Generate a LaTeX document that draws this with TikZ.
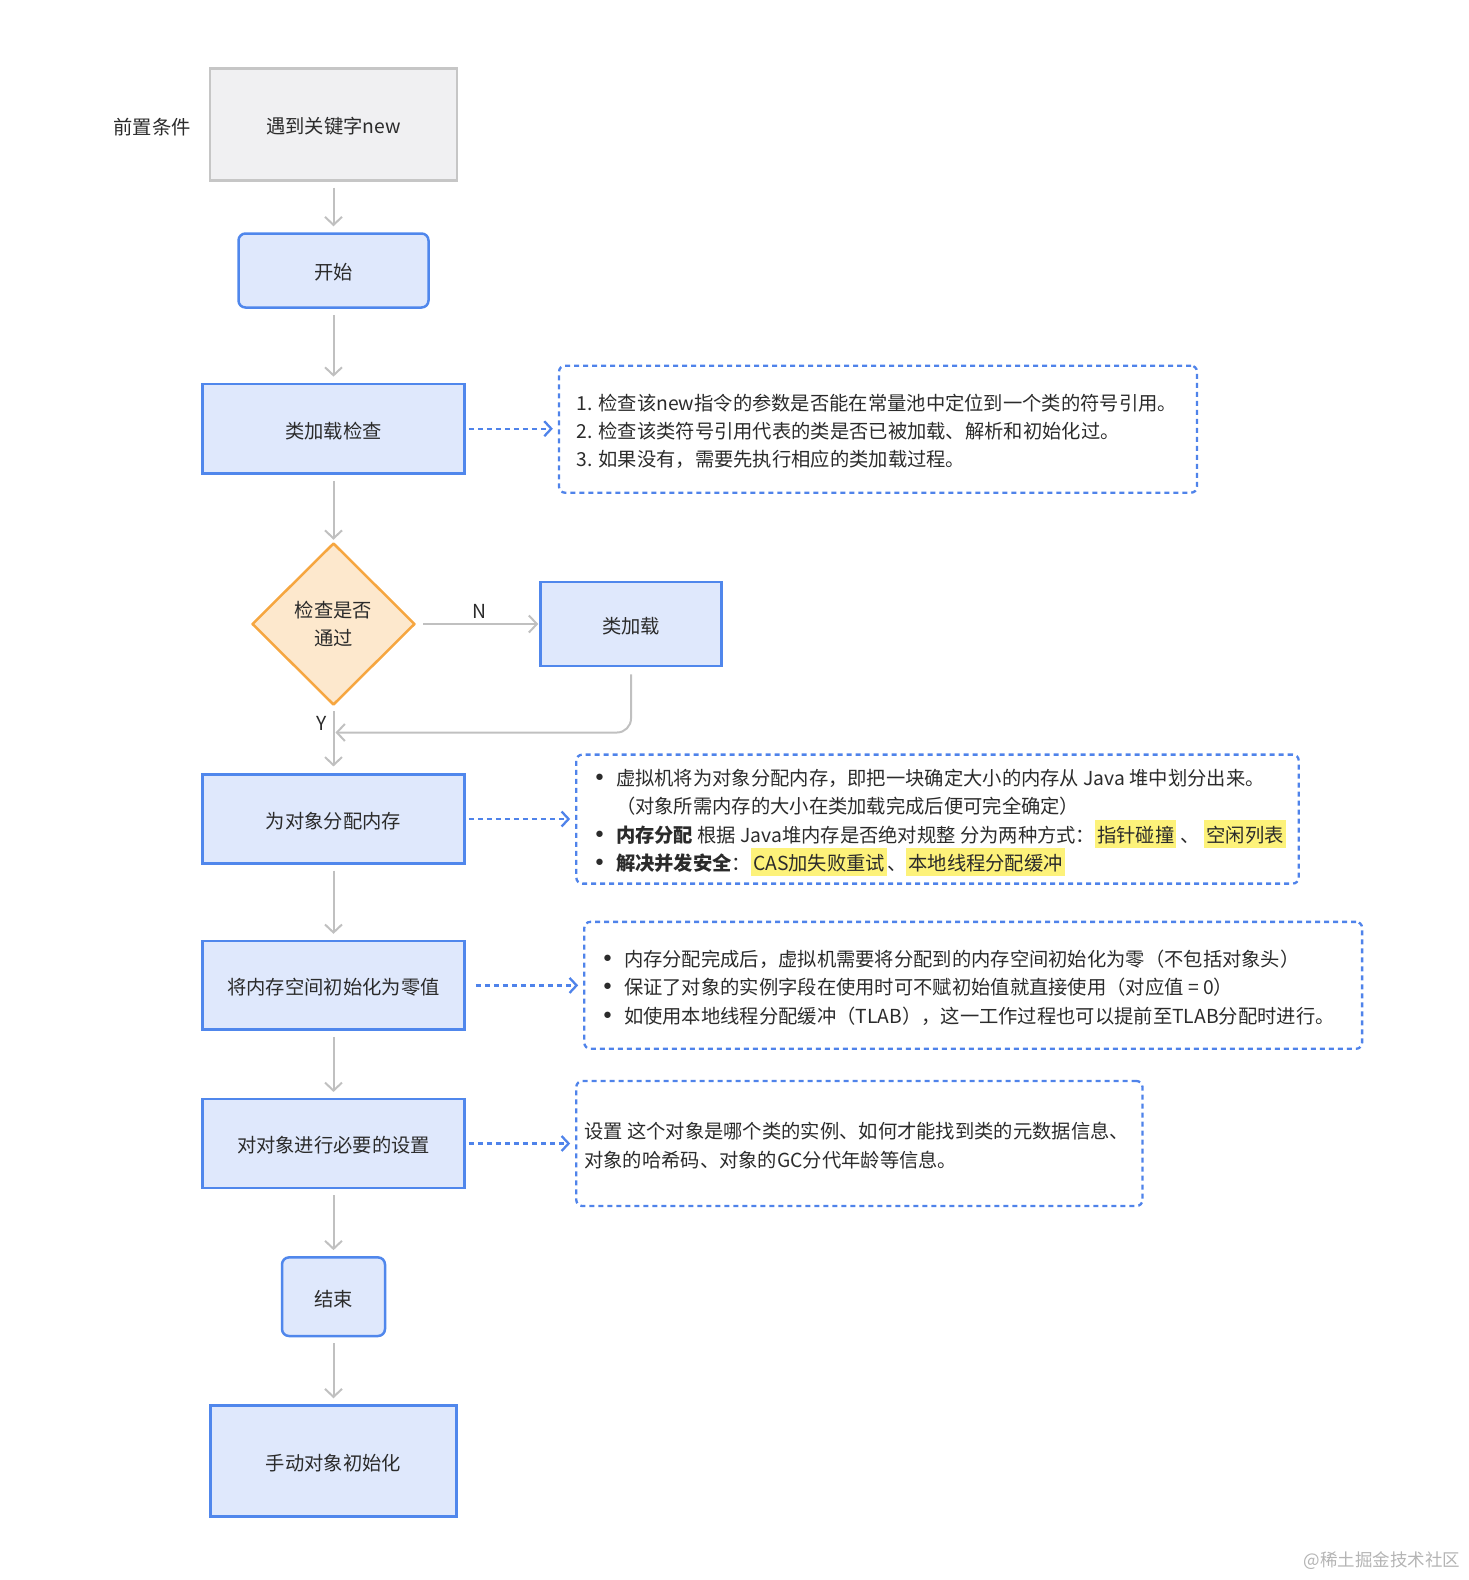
\documentclass[tikz,border=0pt]{standalone}
\usepackage{fontspec}
\setmainfont{Noto Sans CJK SC}
\newfontfamily\djv{DejaVu Sans}
\usetikzlibrary{arrows.meta,shapes.geometric,calc}
\definecolor{txt}{HTML}{2B2B2B}
\definecolor{graybd}{HTML}{C6C6C6}
\definecolor{grayfill}{HTML}{F0F0F2}
\definecolor{bluebd}{HTML}{5087EC}
\definecolor{bluefill}{HTML}{DFE8FC}
\definecolor{dashbd}{HTML}{4F83EA}
\definecolor{orbd}{HTML}{F6A640}
\definecolor{orfill}{HTML}{FDE8CD}
\definecolor{arrowgray}{HTML}{C0C0C0}
\definecolor{hly}{HTML}{FDF27A}
\definecolor{wm}{HTML}{B4B4B4}
\newcommand\mainsz{\fontsize{19.3pt}{28.2pt}\selectfont}
\newcommand\hl[1]{{\setlength\fboxsep{0pt}\colorbox{hly}{\rule[-6pt]{0pt}{28pt}\hspace{2pt}#1\hspace{2pt}}}}
\newcommand\bul{\makebox[8pt][c]{\djv\fontsize{22pt}{22pt}\selectfont •}\hspace{12.3pt}}
\begin{document}
\begin{tikzpicture}[x=1pt,y=-1pt,
  every node/.style={text=txt, font=\mainsz},
  lower/.style={execute at begin node={\rule{0pt}{20.5pt}}},
  graybox/.style={draw=graybd, fill=grayfill, line width=2.5pt, inner sep=0pt, lower},
  bluebox/.style={draw=bluebd, fill=bluefill, line width=2.5pt, inner sep=0pt, lower},
  dbox/.style={draw=dashbd, line width=2.3pt, dash pattern=on 5pt off 4pt, rounded corners=6pt, inner sep=0pt},
  dia/.style={shape=diamond, draw=orbd, fill=orfill, line width=2.5pt, line join=round, minimum width=163pt, minimum height=162pt, inner sep=0pt, align=center, lower},
  ga/.style={draw=arrowgray, line width=2pt, -{Straight Barb[length=8pt,width=17pt]}, shorten <=6pt, shorten >=6pt},
  ba/.style={draw=dashbd, line width=2.3pt, dash pattern=on 5pt off 4pt, -{Straight Barb[length=7pt,width=15pt]}, shorten <=3pt, shorten >=5pt},
  btext/.style={anchor=west, align=left, inner sep=0pt}
]
\path[use as bounding box] (0,0) rectangle (1468,1580);

% main flow
\node[graybox, minimum width=247pt, minimum height=112pt] (pre) at (333.5,124.4) {遇到关键字new};
\node (prelab) at (152,127) {前置条件};
\node[bluebox, rounded corners=7pt, minimum width=190pt, minimum height=74pt] (start) at (333.5,270.5) {开始};
\node[bluebox, minimum width=262pt, minimum height=89.6pt] (check) at (333.5,428.7) {类加载检查};
\node[dia] (dia) at (333.5,624) {检查是否\\通过};
\node[bluebox, minimum width=181pt, minimum height=84pt] (cl) at (631,624) {类加载};
\node[bluebox, minimum width=262pt, minimum height=88.6pt] (alloc) at (333.5,819) {为对象分配内存};
\node[bluebox, minimum width=262pt, minimum height=88.6pt] (zero) at (333.5,985.4) {将内存空间初始化为零值};
\node[bluebox, minimum width=262pt, minimum height=88.6pt] (setup) at (333.5,1143.5) {对对象进行必要的设置};
\node[bluebox, rounded corners=7pt, minimum width=103pt, minimum height=78.6pt] (end) at (333.5,1296.7) {结束};
\node[bluebox, minimum width=246pt, minimum height=111pt] (manual) at (333.5,1461) {手动对象初始化};

\coordinate (merge) at (335.5,732.5);

\draw[ga] (pre) -- (start);
\draw[ga] (start) -- (check);
\draw[ga, shorten >=2pt] (check) -- (dia);
\draw[ga, shorten <=7pt, shorten >=1pt] (dia) -- (cl);
\draw[ga, shorten <=5pt, shorten >=7pt] (dia) -- (alloc);
\draw[ga, rounded corners=14pt, shorten <=7pt, shorten >=0pt] (cl) |- (merge);
\draw[ga] (alloc) -- (zero);
\draw[ga] (zero) -- (setup);
\draw[ga] (setup) -- (end);
\draw[ga] (end) -- (manual);

\node (Nlab) at (479.6,611) {N};
\node (Ylab) at (321.4,723) {Y};

% dashed note boxes
\node[dbox, minimum width=638pt, minimum height=127pt] (d1) at (878,429.2) {};
\node[dbox, minimum width=722.4pt, minimum height=129pt] (d2) at (937.5,819.1) {};
\node[dbox, minimum width=777.8pt, minimum height=126.9pt] (d3) at (973.2,985.3) {};
\node[dbox, minimum width=566.2pt, minimum height=125pt] (d4) at (859.4,1143.5) {};

\draw[ba] (check.east) -- (check.east -| d1.west);
\draw[ba] (alloc.east) -- (alloc.east -| d2.west);
\draw[ba, shorten <=10pt] (zero.east) -- (zero.east -| d3.west);
\draw[ba] (setup.east) -- (setup.east -| d4.west);

\node[btext] (t1) at (576.5,431.2) {1. 检查该new指令的参数是否能在常量池中定位到一个类的符号引用。\\2. 检查该类符号引用代表的类是否已被加载、解析和初始化过。\\3. 如果没有，需要先执行相应的类加载过程。};

\node[btext] (t2) at (595.5,822.8) {\bul 虚拟机将为对象分配内存，即把一块确定大小的内存从 Java 堆中划分出来。\\\hspace{20.3pt}（对象所需内存的大小在类加载完成后便可完全确定）\\\bul\textbf{内存分配} 根据 Java堆内存是否绝对规整 分为两种方式：\hl{指针碰撞} 、 \hl{空闲列表}\\\bul\textbf{解决并发安全}：\hl{CAS加失败重试}、\hl{本地线程分配缓冲}};

\node[btext] (t3) at (603.5,987.6) {\bul 内存分配完成后，虚拟机需要将分配到的内存空间初始化为零（不包括对象头）\\\bul 保证了对象的实例字段在使用时可不赋初始值就直接使用（对应值 = 0）\\\bul 如使用本地线程分配缓冲（TLAB），这一工作过程也可以提前至TLAB分配时进行。};

\node[btext] (t4) at (584,1145.5) {设置 这个对象是哪个类的实例、如何才能找到类的元数据信息、\\对象的哈希码、对象的GC分代年龄等信息。};

\node[text=wm, font=\fontsize{17.5pt}{20pt}\selectfont] (wmark) at (1382,1561) {@稀土掘金技术社区};
\end{tikzpicture}
\end{document}
